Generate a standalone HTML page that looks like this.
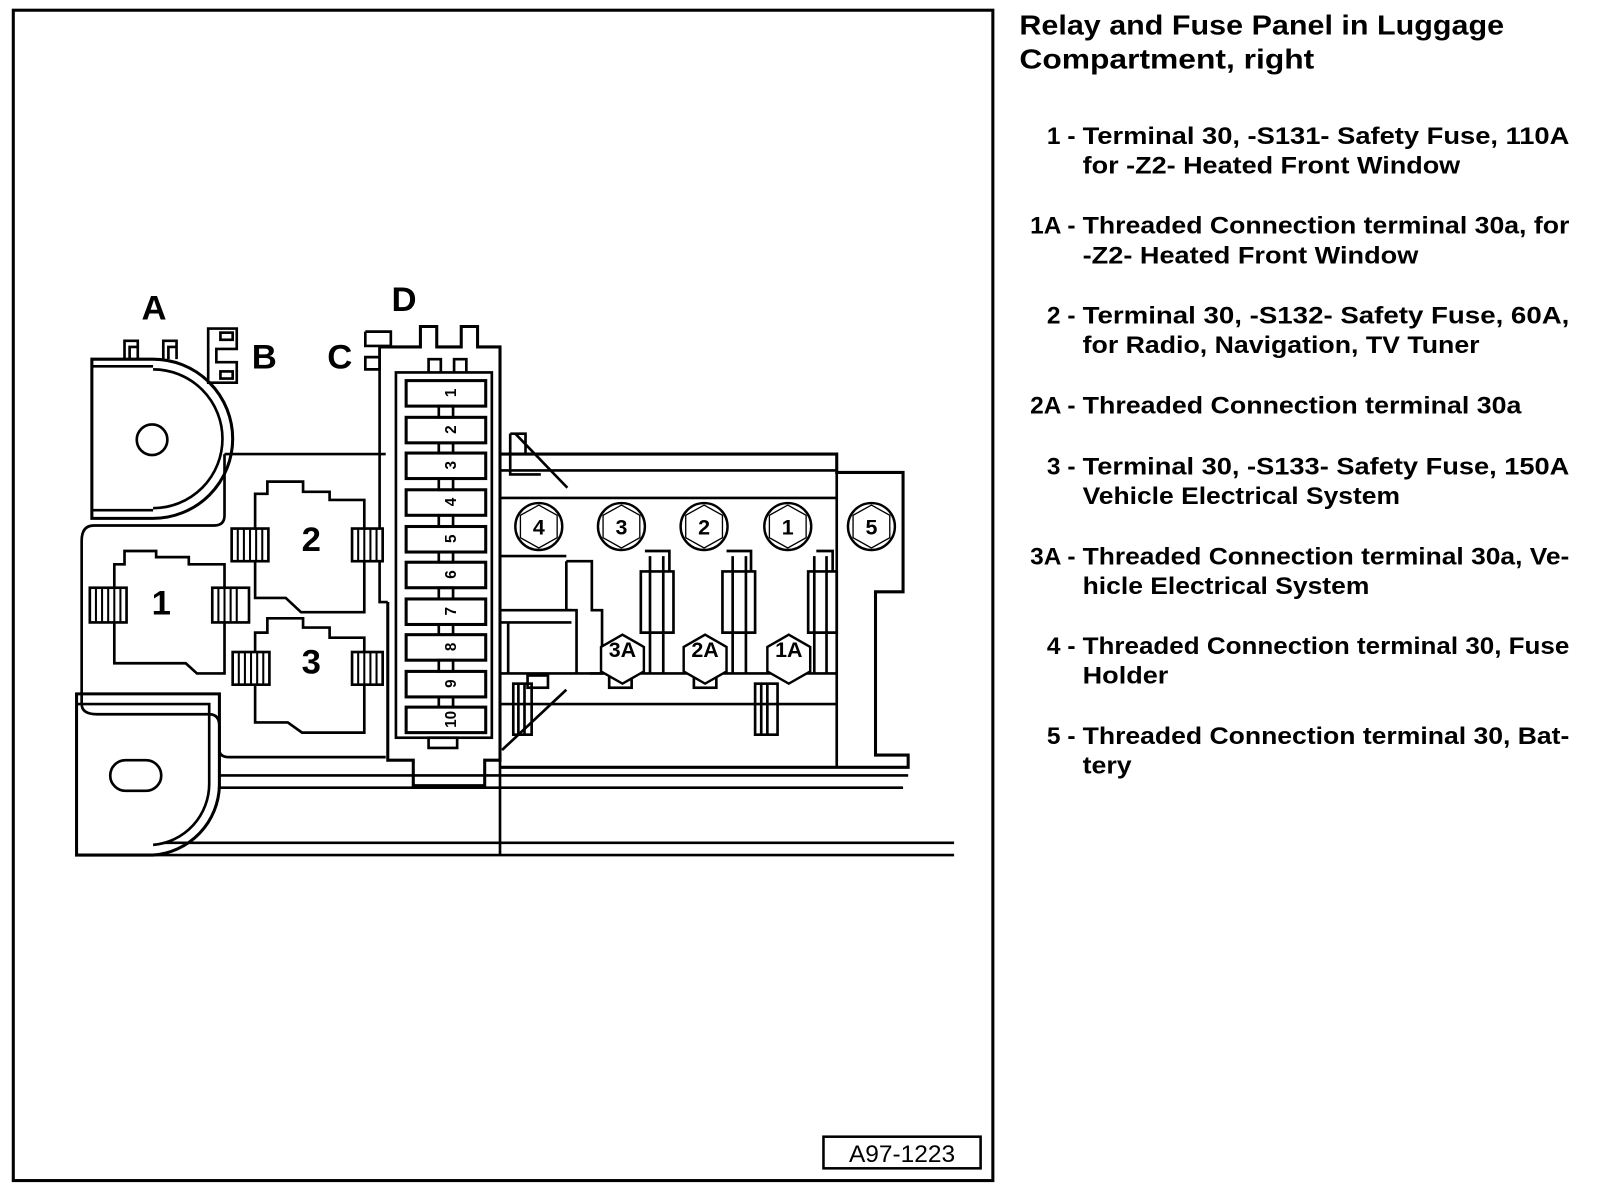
<!DOCTYPE html>
<html><head><meta charset="utf-8"><style>
html,body{margin:0;padding:0;background:#fff}
svg{display:block}
text{font-family:"Liberation Sans",sans-serif;font-weight:bold;fill:#000}
</style></head><body>
<svg width="1600" height="1202" viewBox="0 0 1568 1178" xmlns="http://www.w3.org/2000/svg">
<g fill="none" stroke="#000" stroke-width="2.6">
<rect x="13" y="10" width="960" height="1147" stroke-width="3"/>
<rect x="807" y="1114" width="154" height="31" stroke-width="2.5"/>

<path d="M90 352 H150 A78 78 0 0 1 150 508 H90 Z" stroke-width="3"/>
<path d="M150 362 A68 68 0 0 1 150 498"/>
<line x1="90" y1="359" x2="150" y2="359"/><line x1="90" y1="500" x2="150" y2="500"/>
<circle cx="149" cy="431" r="15"/>
<path d="M122 352 V334 H135 V352 M160 352 V334 H173 V352"/>
<path d="M127 352 V340 H134 M165 352 V340 H172"/>
<path d="M204 322 H232 V342 H212 V355 H232 V375 H204 Z"/>
<rect x="216" y="326" width="12" height="7"/><rect x="216" y="364" width="12" height="7"/>
<path d="M358 325 H383 V339 H372 V362 H358 V350 H372 M358 325 V339 H372"/>

<path d="M372 340 H412 V320 H428 V340 H452 V320 H468 V340 H490 V745 H475 V770 H405 V745 H380 V590" stroke-width="3"/>
<path d="M372 340 V590 H380"/>
<rect x="388" y="365" width="94" height="358"/>
<path d="M420 365 V352 H432 V365 M445 365 V352 H457 V365"/>
<rect x="420" y="723" width="28" height="10"/>
<g stroke-width="3">
<rect x="398" y="373" width="78" height="25"/><rect x="398" y="409" width="78" height="25"/>
<rect x="398" y="444" width="78" height="25"/><rect x="398" y="480" width="78" height="25"/>
<rect x="398" y="516" width="78" height="25"/><rect x="398" y="551" width="78" height="25"/>
<rect x="398" y="587" width="78" height="25"/><rect x="398" y="622" width="78" height="25"/>
<rect x="398" y="658" width="78" height="25"/><rect x="398" y="693" width="78" height="25"/>
</g>
<g>
<rect x="430" y="398" width="14" height="11"/><rect x="430" y="434" width="14" height="10"/>
<rect x="430" y="469" width="14" height="11"/><rect x="430" y="505" width="14" height="11"/>
<rect x="430" y="541" width="14" height="10"/><rect x="430" y="576" width="14" height="11"/>
<rect x="430" y="612" width="14" height="10"/><rect x="430" y="647" width="14" height="11"/>
<rect x="430" y="683" width="14" height="10"/>
</g>

<line x1="220" y1="445" x2="378" y2="445"/>
<path d="M220 445 V505 Q220 515 210 515 H92 Q80 515 80 530 V690 Q80 700 95 700 H205 Q215 700 215 712 V735 Q215 742 225 742 H378"/>
<path d="M250 484 H262 V472 H297 V482 H323 V490 H357 V600 H295 L280 586 H250 Z"/>
<path d="M112 553 H122 V540 H153 V546 H185 V553 H220 V660 H193 L182 650 H112 Z"/>
<path d="M250 620 H262 V606 H297 V615 H323 V625 H357 V718 H296 L282 708 H250 Z"/>
<g fill="#fff">
<rect x="227" y="518" width="36" height="32"/><rect x="345" y="518" width="30" height="32"/>
<rect x="88" y="576" width="36" height="34"/><rect x="208" y="576" width="36" height="34"/>
<rect x="228" y="639" width="36" height="32"/><rect x="345" y="639" width="30" height="32"/>
</g>
<path stroke-width="2" d="M233 518V550M239 518V550M245 518V550M251 518V550M257 518V550 M351 518V550M357 518V550M363 518V550M369 518V550 M94 576V610M100 576V610M106 576V610M112 576V610M118 576V610 M214 576V610M220 576V610M226 576V610M232 576V610 M234 639V671M240 639V671M246 639V671M252 639V671M258 639V671 M351 639V671M357 639V671M363 639V671M369 639V671"/>

<path d="M490 445 H820 V463 H885 V580 H858 V740 H890 V752 H490" stroke-width="3"/>
<path d="M500 425 H515 V445 M500 425 V465 H530 M505 425 L556 478"/>
<line x1="490" y1="461" x2="820" y2="461"/>
<line x1="490" y1="488" x2="820" y2="488"/>
<line x1="820" y1="463" x2="820" y2="752"/>
<line x1="490" y1="545" x2="555" y2="545"/>
<line x1="490" y1="598" x2="560" y2="598"/>
<line x1="490" y1="610" x2="560" y2="610"/>
<line x1="490" y1="690" x2="820" y2="690"/>
<line x1="490" y1="660" x2="820" y2="660"/>
<line x1="498" y1="610" x2="498" y2="660"/>
<path d="M492 735 L555 676"/>
<rect x="517" y="662" width="20" height="12"/>
<rect x="503" y="670" width="18" height="50"/>
<rect x="740" y="670" width="22" height="50"/>
<path d="M746 670V720M752 670V720M508 670V720M514 670V720"/>
<g>
<path d="M555 550 H580 V598 H590 V660 H578 M555 550 V598 H565 V660"/>
<path d="M637 545 V660 M650 545 V660 M628 560 H660 V620 H628 Z M632 540 H656 V560"/>
<path d="M718 545 V660 M731 545 V660 M708 560 H740 V620 H708 Z M712 540 H736 V560"/>
<path d="M798 545 V660 M810 545 V660 M792 560 H820 V620 H792 Z M800 540 H816 V560"/>
</g>
<rect x="597" y="662" width="22" height="12"/>
<rect x="680" y="662" width="22" height="12"/>
<g fill="#fff" stroke-width="2.4">
<circle cx="528" cy="516" r="23"/><circle cx="609" cy="516" r="23"/>
<circle cx="690" cy="516" r="23"/><circle cx="772" cy="516" r="23"/>
<circle cx="854" cy="516" r="23"/>
<polygon points="610,622 631,634 631,658 610,670 589,658 589,634"/>
<polygon points="691,622 712,634 712,658 691,670 670,658 670,634"/>
<polygon points="773,622 794,634 794,658 773,670 752,658 752,634"/>
</g>
<g stroke-width="1.3">
<polygon points="528,495 546,505 546,527 528,537 510,527 510,505"/>
<polygon points="609,495 627,505 627,527 609,537 591,527 591,505"/>
<polygon points="690,495 708,505 708,527 690,537 672,527 672,505"/>
<polygon points="772,495 790,505 790,527 772,537 754,527 754,505"/>
<polygon points="854,495 872,505 872,527 854,537 836,527 836,505"/>
</g>

<line x1="215" y1="760" x2="890" y2="760"/>
<line x1="215" y1="772" x2="885" y2="772"/>
<line x1="490" y1="745" x2="490" y2="838"/>
<line x1="160" y1="826" x2="935" y2="826"/>
<line x1="75" y1="838" x2="935" y2="838"/>
<path d="M75 680 H215 V770 A70 70 0 0 1 150 838 H75 Z" stroke-width="3"/>
<path d="M75 690 H205 V768 A60 60 0 0 1 150 828"/>
<rect x="108" y="745" width="50" height="30" rx="15"/>
</g>

<g font-size="34" text-anchor="middle">
<text x="151" y="313">A</text><text x="259" y="361">B</text>
<text x="333" y="361">C</text><text x="396" y="305">D</text>
<text x="305" y="540">2</text><text x="158" y="602">1</text><text x="305" y="660">3</text>
</g>
<g font-size="21" text-anchor="middle">
<text x="528" y="524">4</text><text x="609" y="524">3</text><text x="690" y="524">2</text>
<text x="772" y="524">1</text><text x="854" y="524">5</text>
<text x="610" y="644">3A</text><text x="691" y="644">2A</text><text x="773" y="644">1A</text>
</g>
<g font-size="15">
<text transform="translate(442,385) rotate(-90)" text-anchor="middle" dy="5">1</text>
<text transform="translate(442,421) rotate(-90)" text-anchor="middle" dy="5">2</text>
<text transform="translate(442,456) rotate(-90)" text-anchor="middle" dy="5">3</text>
<text transform="translate(442,492) rotate(-90)" text-anchor="middle" dy="5">4</text>
<text transform="translate(442,528) rotate(-90)" text-anchor="middle" dy="5">5</text>
<text transform="translate(442,563) rotate(-90)" text-anchor="middle" dy="5">6</text>
<text transform="translate(442,599) rotate(-90)" text-anchor="middle" dy="5">7</text>
<text transform="translate(442,634) rotate(-90)" text-anchor="middle" dy="5">8</text>
<text transform="translate(442,670) rotate(-90)" text-anchor="middle" dy="5">9</text>
<text transform="translate(442,705) rotate(-90)" text-anchor="middle" dy="5">10</text>
</g>
<text x="884" y="1139" font-size="24" style="font-weight:normal" text-anchor="middle">A97-1223</text>

<g font-size="27">
<text x="999" y="34" textLength="475" lengthAdjust="spacingAndGlyphs">Relay and Fuse Panel in Luggage</text>
<text x="999" y="67" textLength="289" lengthAdjust="spacingAndGlyphs">Compartment, right</text>
</g>
<g font-size="24">
<text x="1054" y="141" text-anchor="end">1 -</text>
<text x="1061" y="141" textLength="477" lengthAdjust="spacingAndGlyphs">Terminal 30, -S131- Safety Fuse, 110A</text>
<text x="1061" y="170" textLength="370" lengthAdjust="spacingAndGlyphs">for -Z2- Heated Front Window</text>
<text x="1054" y="229" text-anchor="end">1A -</text>
<text x="1061" y="229" textLength="477" lengthAdjust="spacingAndGlyphs">Threaded Connection terminal 30a, for</text>
<text x="1061" y="258" textLength="329" lengthAdjust="spacingAndGlyphs">-Z2- Heated Front Window</text>
<text x="1054" y="317" text-anchor="end">2 -</text>
<text x="1061" y="317" textLength="477" lengthAdjust="spacingAndGlyphs">Terminal 30, -S132- Safety Fuse, 60A,</text>
<text x="1061" y="346" textLength="389" lengthAdjust="spacingAndGlyphs">for Radio, Navigation, TV Tuner</text>
<text x="1054" y="405" text-anchor="end">2A -</text>
<text x="1061" y="405" textLength="430" lengthAdjust="spacingAndGlyphs">Threaded Connection terminal 30a</text>
<text x="1054" y="465" text-anchor="end">3 -</text>
<text x="1061" y="465" textLength="477" lengthAdjust="spacingAndGlyphs">Terminal 30, -S133- Safety Fuse, 150A</text>
<text x="1061" y="494" textLength="311" lengthAdjust="spacingAndGlyphs">Vehicle Electrical System</text>
<text x="1054" y="553" text-anchor="end">3A -</text>
<text x="1061" y="553" textLength="477" lengthAdjust="spacingAndGlyphs">Threaded Connection terminal 30a, Ve-</text>
<text x="1061" y="582" textLength="281" lengthAdjust="spacingAndGlyphs">hicle Electrical System</text>
<text x="1054" y="641" text-anchor="end">4 -</text>
<text x="1061" y="641" textLength="477" lengthAdjust="spacingAndGlyphs">Threaded Connection terminal 30, Fuse</text>
<text x="1061" y="670" textLength="84" lengthAdjust="spacingAndGlyphs">Holder</text>
<text x="1054" y="729" text-anchor="end">5 -</text>
<text x="1061" y="729" textLength="477" lengthAdjust="spacingAndGlyphs">Threaded Connection terminal 30, Bat-</text>
<text x="1061" y="758" textLength="48" lengthAdjust="spacingAndGlyphs">tery</text>
</g>
</svg>
</body></html>
